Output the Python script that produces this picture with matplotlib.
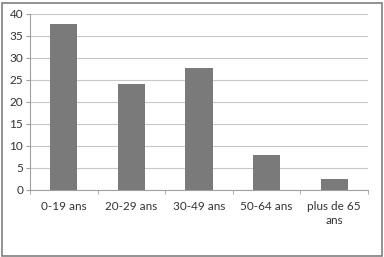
import matplotlib.pyplot as plt
from matplotlib.patches import Rectangle

categories = ["0-19 ans", "20-29 ans", "30-49 ans", "50-64 ans", "plus de 65\nans"]
values = [37.7, 24.1, 27.8, 7.9, 2.5]
y_ticks = [0, 5, 10, 15, 20, 25, 30, 35, 40]

plt.rcParams["font.family"] = ["Lato", "DejaVu Sans"]

fig = plt.figure(figsize=(3.84, 2.57), dpi=100)
ax = fig.add_axes([30 / 384, 67 / 257, 338 / 384, 176 / 257])

x = list(range(len(categories)))
ax.bar(x, values, width=0.4, color="#7a7a7a", zorder=3)

ax.set_xlim(-0.5, len(categories) - 0.5)
ax.set_ylim(0, 40)
ax.set_yticks(y_ticks)
ax.yaxis.grid(True, color="#c8c8c8", linewidth=0.8)
ax.set_axisbelow(True)

ax.set_xticks(x)
ax.set_xticklabels(categories, fontsize=8.5, color="#333333", linespacing=1.3)
ax.tick_params(axis="x", length=0, pad=8)
ax.set_xticks([i + 0.5 for i in range(len(categories) - 1)] + [-0.5, len(categories) - 0.5], minor=True)
ax.tick_params(axis="x", which="minor", length=3, color="#a0a0a0")
ax.tick_params(axis="y", labelsize=8.5, labelcolor="#333333", length=3, color="#a0a0a0", pad=2)

for side in ["top", "right"]:
    ax.spines[side].set_visible(False)
for side in ["left", "bottom"]:
    ax.spines[side].set_color("#a0a0a0")
    ax.spines[side].set_linewidth(0.8)

fig.patches.append(Rectangle((1.5 / 384, 1.5 / 257), 380 / 384, 253 / 257,
                             transform=fig.transFigure, fill=False,
                             edgecolor="#808080", linewidth=1.2))

fig.savefig("out.png", dpi=100)
